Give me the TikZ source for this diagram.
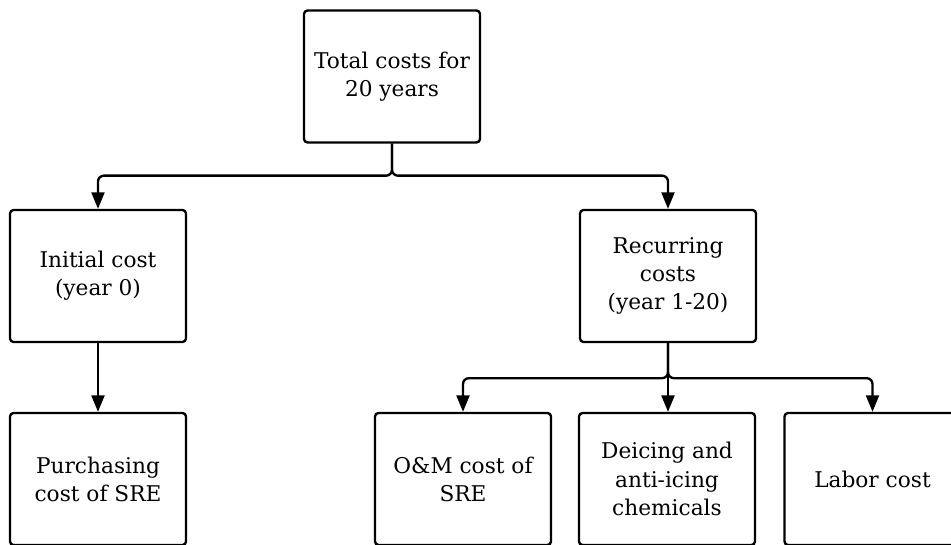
\documentclass[tikz,border=0pt]{standalone}
\usepackage{fontspec}
\setmainfont{DejaVu Serif}
\usetikzlibrary{arrows.meta}

\begin{document}
\begin{tikzpicture}[x=0.03cm,y=-0.03cm,
    box/.style={draw,line width=2pt,rounded corners=3pt,minimum width=5.28cm,minimum height=3.96cm,
        align=center,font=\fontsize{18.5}{24}\selectfont,inner sep=0pt},
    link/.style={line width=2pt,rounded corners=5pt,-{Triangle[length=14pt,width=11pt]}}]
        \useasboundingbox (0,0) rectangle (951,545);
        % levels
        \node[box](total)at(392, 76.5){Total costs for\\20 years};
        \node[box](initial)at(98, 276){Initial cost\\(year 0)};
        \node[box](recurring)at(668, 276){Recurring\\costs\\(year 1-20)};
        \node[box](purchasing)at(98, 479){Purchasing\\cost of SRE};
        \node[box](om)at(463, 479){O\&M cost of\\SRE};
        \node[box](deicing)at(667, 479){Deicing and\\anti-icing\\chemicals};
        \node[box](labor)at(872.5, 479){Labor cost};
        % connectors
        \draw[link](total.south)--++(0,32)-|(initial.north);
        \draw[link](total.south)--++(0,32)-|(recurring.north);
        \draw[link](initial)--(purchasing);
        \draw[link](recurring.south)--++(0,35)-|(om.north);
        \draw[link](recurring.south)--(recurring.south|-deicing.north);
        \draw[link](recurring.south)--++(0,35)-|(labor.north);
    \end{tikzpicture}
\end{document}
